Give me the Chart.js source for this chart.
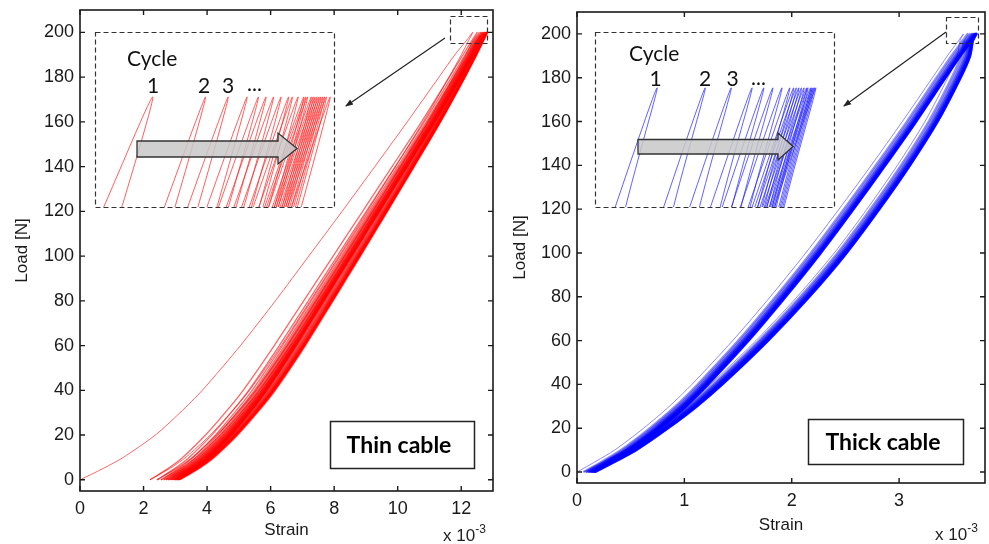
<!DOCTYPE html>
<html>
<head>
<meta charset="utf-8">
<script src="https://cdn.jsdelivr.net/npm/chart.js@4.4.1/dist/chart.umd.min.js"></script>
<style>
  body { margin: 0; background: #fff; width: 989px; height: 544px; position: relative; overflow: hidden; }
  canvas, svg { position: absolute; }
  #thinMain { left: 0; top: 0; }
  #thickMain { left: 495px; top: 0; }
  #thinInset { left: 96px; top: 33px; background: #fff; }
  #thickInset { left: 596px; top: 33px; background: #fff; }
  #notes { left: 0; top: 0; pointer-events: none; }
</style>
</head>
<body>
<canvas id="thinMain" width="500" height="544"></canvas>
<canvas id="thickMain" width="494" height="544"></canvas>
<canvas id="thinInset" width="238" height="174"></canvas>
<canvas id="thickInset" width="238" height="174"></canvas>

<svg id="notes" width="989" height="544" viewBox="0 0 989 544">
  <defs>
    <marker id="head" markerWidth="8" markerHeight="8" refX="7" refY="4" orient="auto" markerUnits="userSpaceOnUse">
      <path d="M0,1 L8,4 L0,7 Z" fill="#222"/>
    </marker>
  </defs>
  <g fill="none" stroke="#333" stroke-width="1.2" stroke-dasharray="5 3">
    <rect x="95.5" y="32.5" width="239" height="175"/>
    <rect x="450.5" y="16.5" width="37" height="27"/>
    <rect x="595.5" y="32.5" width="239" height="175"/>
    <rect x="946.5" y="17.5" width="32" height="26"/>
  </g>
  <line x1="445" y1="38" x2="346" y2="106" stroke="#222" stroke-width="1.2" marker-end="url(#head)"/>
  <line x1="946" y1="32" x2="844" y2="106" stroke="#222" stroke-width="1.2" marker-end="url(#head)"/>

  <polygon points="137,141 278,141 278,133 297,148.5 278,164 278,157 137,157"
           fill="rgba(200,200,200,0.85)" stroke="#333" stroke-width="1.3"/>
  <polygon points="638,139.5 778,139.5 778,133 793,146.5 778,160 778,154 638,154"
           fill="rgba(200,200,200,0.85)" stroke="#333" stroke-width="1.3"/>

  <g font-family="Lato, 'Noto Sans', sans-serif" font-size="21" fill="#111">
    <text x="127" y="66">Cycle</text>
    <text x="153" y="92.5" text-anchor="middle">1</text>
    <text x="204" y="92.5" text-anchor="middle">2</text>
    <text x="228" y="92.5" text-anchor="middle">3</text>
    <text x="247" y="91">...</text>
    <text x="629" y="61">Cycle</text>
    <text x="655.5" y="85.5" text-anchor="middle">1</text>
    <text x="705" y="85.5" text-anchor="middle">2</text>
    <text x="732.5" y="85.5" text-anchor="middle">3</text>
    <text x="751" y="85">...</text>
  </g>

  <rect x="330.5" y="421.5" width="144" height="47" fill="#fff" stroke="#222" stroke-width="1.5"/>
  <rect x="808.5" y="419.5" width="155" height="45" fill="#fff" stroke="#222" stroke-width="1.5"/>
  <g font-family="Lato, 'Noto Sans', sans-serif" font-size="23" font-weight="bold" fill="#000" text-anchor="middle">
    <text x="399" y="453">Thin cable</text>
    <text x="883" y="450">Thick cable</text>
  </g>

  <g font-family="'Liberation Sans', Arial, sans-serif" font-size="17" fill="#222">
    <text x="443" y="541">x 10<tspan dy="-8" font-size="12">-3</tspan></text>
    <text x="935" y="540">x 10<tspan dy="-8" font-size="12">-3</tspan></text>
  </g>
</svg>

<script>
const loadLevels = [0, 5, 10, 20, 30, 40, 60, 80, 100, 120, 140, 160, 180, 190, 197, 200];

// thin cable (strain in 1e-3)
const thinFirstLoading = [0, 0.72, 1.36, 2.37, 3.15, 3.85, 5.05, 6.15, 7.2, 8.25, 9.28, 10.3, 11.3, 11.8, 12.2, 12.36];
const thinShape = [0, 0.055, 0.1, 0.17, 0.23, 0.285, 0.38, 0.47, 0.56, 0.65, 0.74, 0.83, 0.915, 0.957, 0.987, 1];
const thinGap = [0, 0.06, 0.11, 0.17, 0.21, 0.24, 0.27, 0.27, 0.26, 0.24, 0.21, 0.17, 0.12, 0.08, 0.03, 0];
const thinPeaks = [12.36, 12.50, 12.56, 12.61, 12.64, 12.66, 12.68, 12.70, 12.72, 12.73, 12.745, 12.76,
                   12.765, 12.77, 12.78, 12.785, 12.79, 12.795, 12.80, 12.805, 12.81, 12.815, 12.82, 12.83];
const thinStarts = [0, 2.20, 2.42, 2.55, 2.64, 2.71, 2.77, 2.82, 2.86, 2.90, 2.93, 2.96, 2.98,
                    3.00, 3.02, 3.04, 3.05, 3.06, 3.07, 3.08, 3.09, 3.10, 3.11, 3.12, 3.15];

// thick cable (strain in 1e-3)
const thickFirstLoading = [0, 0.18, 0.35, 0.62, 0.86, 1.07, 1.45, 1.80, 2.13, 2.44, 2.74, 3.03, 3.31, 3.45, 3.555, 3.60];
const thickShape = [0, 0.05, 0.097, 0.172, 0.239, 0.297, 0.403, 0.5, 0.592, 0.678, 0.761, 0.842, 0.919, 0.958, 0.9875, 1];
const thickGap = [0, 0.02, 0.04, 0.07, 0.1, 0.13, 0.18, 0.22, 0.24, 0.24, 0.23, 0.2, 0.14, 0.09, 0.012, 0];
const thickPeaks = [3.600, 3.637, 3.657, 3.673, 3.682, 3.689, 3.696, 3.702, 3.705, 3.707, 3.709, 3.711,
                    3.713, 3.715, 3.716, 3.718, 3.719, 3.720, 3.721, 3.722];
const thickStarts = [0, 0.06, 0.08, 0.095, 0.105, 0.113, 0.12, 0.126, 0.131, 0.136, 0.14, 0.144,
                     0.148, 0.152, 0.155, 0.158, 0.161, 0.164, 0.167, 0.169, 0.17];

const yTicks = [0, 20, 40, 60, 80, 100, 120, 140, 160, 180, 200];

// one dataset per cycle: loading up, unloading back down
function buildCycles(first, shape, gap, starts, peaks, color, width) {
  const sets = [];
  for (let c = 0; c < peaks.length; c++) {
    const pts = [];
    loadLevels.forEach((load, k) => {
      const s = c === 0 ? first[k] : starts[c] + (peaks[c] - starts[c]) * shape[k];
      pts.push({ x: s, y: load });
    });
    for (let k = loadLevels.length - 2; k >= 0; k--) {
      const s = starts[c + 1] + (peaks[c] - starts[c + 1]) * shape[k] + gap[k];
      pts.push({ x: s, y: loadLevels[k] });
    }
    sets.push({
      data: pts,
      showLine: true,
      borderColor: color,
      borderWidth: c === 0 ? 1 : width,
      pointRadius: 0,
      tension: 0.25,
      fill: false
    });
  }
  return sets;
}

// matlab style frame with inward ticks
const boxTicks = {
  id: "boxTicks",
  afterDraw(chart) {
    const { ctx, chartArea: a, scales } = chart;
    ctx.save();
    ctx.strokeStyle = "#1a1a1a";
    ctx.lineWidth = 1.6;
    ctx.strokeRect(a.left, a.top, a.right - a.left, a.bottom - a.top);
    ctx.lineWidth = 1.4;
    ctx.beginPath();
    scales.x.ticks.forEach(t => {
      const px = scales.x.getPixelForValue(t.value);
      ctx.moveTo(px, a.bottom); ctx.lineTo(px, a.bottom - 5);
      ctx.moveTo(px, a.top); ctx.lineTo(px, a.top + 5);
    });
    scales.y.ticks.forEach(t => {
      const py = scales.y.getPixelForValue(t.value);
      ctx.moveTo(a.left, py); ctx.lineTo(a.left + 5, py);
      ctx.moveTo(a.right, py); ctx.lineTo(a.right - 5, py);
    });
    ctx.stroke();
    ctx.restore();
  }
};

function mainChart(id, datasets, xMax, xStep, yWidth, xHeight, pad, titlePadY, titlePadX) {
  const tickFont = { family: "'Liberation Sans', Arial, sans-serif", size: 18 };
  const titleFont = { family: "'Liberation Sans', Arial, sans-serif", size: 17 };
  return new Chart(document.getElementById(id), {
    type: "scatter",
    data: { datasets: datasets },
    options: {
      responsive: false,
      animation: false,
      devicePixelRatio: 1,
      events: [],
      layout: { padding: pad },
      plugins: { legend: { display: false }, tooltip: { enabled: false } },
      scales: {
        x: {
          type: "linear",
          min: 0,
          max: xMax,
          grid: { display: false, drawTicks: false },
          border: { display: false },
          ticks: { stepSize: xStep, includeBounds: false, padding: 7, color: "#1a1a1a", font: tickFont },
          title: { display: true, text: "Strain", color: "#1a1a1a", font: titleFont, padding: { bottom: titlePadX } },
          afterFit: s => { s.height = xHeight; s.paddingLeft = 0; s.paddingRight = 0; }
        },
        y: {
          min: -5,
          max: 210,
          grid: { display: false, drawTicks: false },
          border: { display: false },
          afterBuildTicks: s => { s.ticks = yTicks.map(v => ({ value: v })); },
          ticks: { padding: 6, color: "#1a1a1a", font: tickFont },
          title: { display: true, text: "Load [N]", color: "#1a1a1a", font: titleFont, padding: { top: titlePadY } },
          afterFit: s => { s.width = yWidth; s.paddingTop = 0; s.paddingBottom = 0; }
        }
      }
    },
    plugins: [boxTicks]
  });
}

function insetChart(id, datasets, xMin, xMax, yMin, yMax) {
  return new Chart(document.getElementById(id), {
    type: "scatter",
    data: { datasets: datasets },
    options: {
      responsive: false,
      animation: false,
      devicePixelRatio: 1,
      events: [],
      layout: { padding: 0 },
      plugins: { legend: { display: false }, tooltip: { enabled: false } },
      scales: {
        x: { type: "linear", display: false, min: xMin, max: xMax },
        y: { display: false, min: yMin, max: yMax }
      }
    }
  });
}

mainChart("thinMain",
  buildCycles(thinFirstLoading, thinShape, thinGap, thinStarts, thinPeaks, "rgba(255, 0, 0, 0.6)", 1.3),
  13, 2, 80, 53, { left: 0, top: 10, right: 7, bottom: 0 }, 12, 3);

mainChart("thickMain",
  buildCycles(thickFirstLoading, thickShape, thickGap, thickStarts, thickPeaks, "rgba(0, 0, 255, 0.45)", 2.2),
  3.8, 1, 82, 61, { left: 0, top: 12, right: 4, bottom: 0 }, 15, 8);

insetChart("thinInset",
  buildCycles(thinFirstLoading, thinShape, thinGap, thinStarts, thinPeaks, "rgba(255, 40, 40, 0.75)", 1),
  12.21, 12.84, 197.57, 201.41);

insetChart("thickInset",
  buildCycles(thickFirstLoading, thickShape, thickGap, thickStarts, thickPeaks, "rgba(30, 30, 255, 0.7)", 1),
  3.553, 3.736, 197.87, 200.98);
</script>
</body>
</html>
